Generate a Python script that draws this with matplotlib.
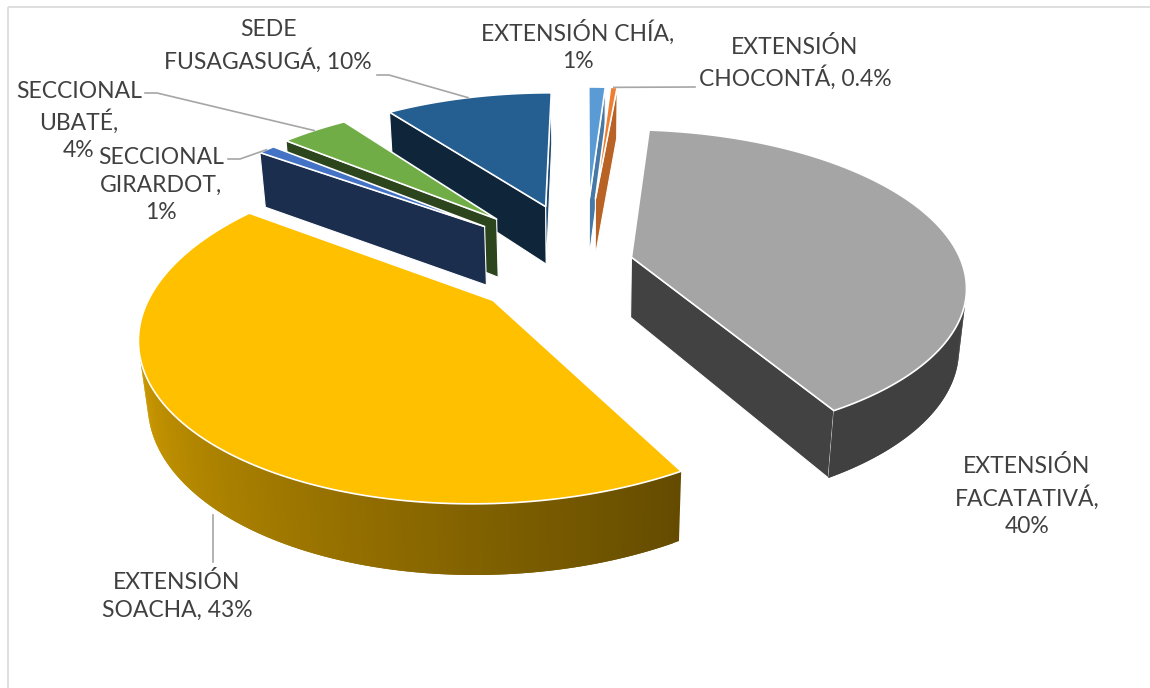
import numpy as np
import matplotlib.pyplot as plt
from matplotlib.patches import Polygon, Rectangle
from matplotlib.colors import to_rgb

# Share of each site (percent), in clockwise order from 12 o'clock
sites = ['EXTENSIÓN CHÍA', 'EXTENSIÓN\nCHOCONTÁ', 'EXTENSIÓN\nFACATATIVÁ', 'EXTENSIÓN\nSOACHA',
         'SECCIONAL\nGIRARDOT', 'SECCIONAL\nUBATÉ', 'SEDE\nFUSAGASUGÁ']
shares = [1, 0.4, 40, 43, 1, 4, 10]
colors = ['#5B9BD5', '#ED7D31', '#A5A5A5', '#FFC000', '#4472C4', '#70AD47', '#255E91']

# label layout: separator between name and value, block centre, leader start
label_sep = ['\n', ' ', '\n', ' ', '\n', '\n', ' ']
label_pos = [(578, 46), (795, 63), (1027, 496), (177, 596), (161, 185), (79, 121), (268, 46)]
leader_from = [None, (695, 87), None, (213, 562), (228, 159), (145, 93), (377, 75)]
explode = [0.45, 0.45, 0.145, 0.36, 0.40, 0.41, 0.41]

# camera / projection settings (pixel space)
F = 330.0
SIN_A = 0.46
COS_A = np.sqrt(1 - SIN_A ** 2)
DIST = 5.0
CX, CY = 585, 262
THICK = 0.21
cam = np.array([0.0, -DIST * COS_A, DIST * SIN_A])
LEADER = '#A6A6A6'

plt.rcParams['font.family'] = ['Lato', 'DejaVu Sans']


def project(X, Y, Z):
    X, Y, Z = np.asarray(X, float), np.asarray(Y, float), np.asarray(Z, float)
    w = 1 + (Y * COS_A - Z * SIN_A) / DIST
    return CX + F * X / w, CY - F * (Y * SIN_A + Z * COS_A) / w


def poly2d(pts3):
    pts3 = np.asarray(pts3)
    x, y = project(pts3[:, 0], pts3[:, 1], pts3[:, 2])
    return np.column_stack([x, y])


def faces_camera(normal, point):
    return np.dot(normal, cam - np.asarray(point)) > 0


def rim_shade(t):
    d = np.degrees(t) % 360
    return float(np.clip(0.39 + (d - 150) * 0.0040, 0.39, 0.87))


def shaded(c, s):
    r, g, b = to_rgb(c)
    return (r * s, g * s, b * s)


fig = plt.figure(figsize=(11.5, 6.88), dpi=100)
ax = fig.add_axes([0, 0, 1, 1])
ax.set_xlim(0, 1150)
ax.set_ylim(688, 0)
ax.axis('off')

ax.add_patch(Rectangle((8, 7), 1200, 700, fill=False, edgecolor='#D9D9D9', lw=1.2))

total = sum(shares)
bounds = np.concatenate([[0], np.cumsum(shares)]) / total * 2 * np.pi

slices = []
for i in range(len(shares)):
    t1, t2 = bounds[i], bounds[i + 1]
    mid = (t1 + t2) / 2
    ox, oy = explode[i] * np.sin(mid), explode[i] * np.cos(mid)
    slices.append((oy + 0.6 * np.cos(mid), i, t1, t2, mid, ox, oy))

# far slices first
for _, i, t1, t2, mid, ox, oy in sorted(slices, reverse=True):
    n = max(3, int(np.degrees(t2 - t1)) + 2)
    ts = np.linspace(t1, t2, n)
    rx, ry = ox + np.sin(ts), oy + np.cos(ts)
    apex_top, apex_bot = (ox, oy, 0), (ox, oy, -THICK)
    base = colors[i]

    # radial cut faces
    for t, nrm in ((t1, (-np.cos(t1), np.sin(t1), 0)), (t2, (np.cos(t2), -np.sin(t2), 0))):
        if faces_camera(nrm, apex_top):
            px, py = ox + np.sin(t), oy + np.cos(t)
            quad = poly2d([apex_top, (px, py, 0), (px, py, -THICK), apex_bot])
            s = 0.78 if nrm[0] > 0.5 else 0.40
            ax.add_patch(Polygon(quad, closed=True, facecolor=shaded(base, s),
                                 edgecolor='white', lw=0.8, joinstyle='round'))

    # outer rim: overlapping strips so the lighting can vary without seams
    for k in range(n - 1):
        k2 = min(k + 2, n - 1)
        tm = (ts[k] + ts[k + 1]) / 2
        pm = (ox + np.sin(tm), oy + np.cos(tm), 0)
        if not faces_camera((np.sin(tm), np.cos(tm), 0), pm):
            continue
        quad = poly2d([(rx[k], ry[k], 0), (rx[k2], ry[k2], 0),
                       (rx[k2], ry[k2], -THICK), (rx[k], ry[k], -THICK)])
        c = shaded(base, rim_shade(tm))
        ax.add_patch(Polygon(quad, closed=True, facecolor=c, edgecolor='none'))

    # top face
    top = poly2d([apex_top] + [(x, y, 0) for x, y in zip(rx, ry)])
    ax.add_patch(Polygon(top, closed=True, facecolor=base, edgecolor='white',
                         lw=1.2, joinstyle='round'))

# data labels and leader lines
for i in range(len(shares)):
    text = sites[i] + ',' + label_sep[i] + f'{shares[i]:g}%'
    lx, ly = label_pos[i]
    ax.text(lx, ly, text, ha='center', va='center', multialignment='center',
            fontsize=16.5, color='#404040', linespacing=1.38)

    src = leader_from[i]
    if src is None:
        continue
    t1, t2 = bounds[i], bounds[i + 1]
    t = (t1 + t2) / 2
    ox, oy = explode[i] * np.sin(t), explode[i] * np.cos(t)
    sx, sy = src
    if sy > CY:
        # front slice: vertical leader up to the lower rim edge
        ts = np.linspace(t1, t2, 400)
        bx, by = project(ox + np.sin(ts), oy + np.cos(ts), np.full(ts.shape, -THICK))
        py = by[np.abs(bx - sx) < 3].max()
        ax.plot([sx, sx], [py + 6, sy], color=LEADER, lw=1.2)
        continue
    px, py = project(ox + np.sin(t), oy + np.cos(t), 0)
    if sx < px:
        ax.plot([sx, sx + 12, px], [sy, sy, py], color=LEADER, lw=1.2)
    else:
        ax.plot([sx, px], [sy, py], color=LEADER, lw=1.2)

fig.savefig('out.png', dpi=100, facecolor='white')
